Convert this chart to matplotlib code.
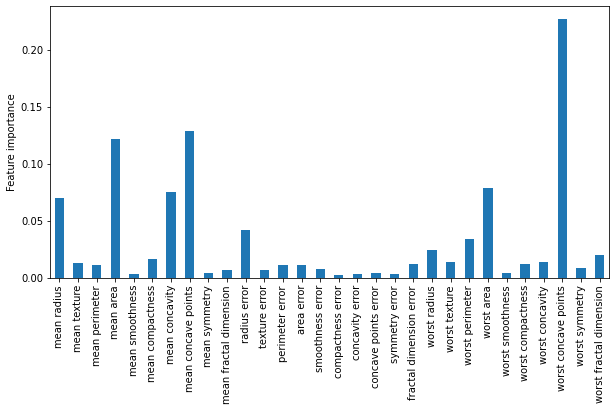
import matplotlib
matplotlib.use("Agg")
import matplotlib.pyplot as plt
import numpy as np

features = [
    "mean radius", "mean texture", "mean perimeter", "mean area",
    "mean smoothness", "mean compactness", "mean concavity",
    "mean concave points", "mean symmetry", "mean fractal dimension",
    "radius error", "texture error", "perimeter error", "area error",
    "smoothness error", "compactness error", "concavity error",
    "concave points error", "symmetry error", "fractal dimension error",
    "worst radius", "worst texture", "worst perimeter", "worst area",
    "worst smoothness", "worst compactness", "worst concavity",
    "worst concave points", "worst symmetry", "worst fractal dimension",
]
importance = [
    0.0703, 0.0132, 0.0114, 0.1220, 0.0035, 0.0167, 0.0755, 0.1290,
    0.0044, 0.0070, 0.0420, 0.0070, 0.0114, 0.0114, 0.0080,
    0.0026, 0.0035, 0.0044, 0.0035, 0.0123,
    0.0246, 0.0140, 0.0342, 0.0790, 0.0044, 0.0123, 0.0140,
    0.2275, 0.0088, 0.0200,
]

DPI = 72
fig = plt.figure(figsize=(615 / DPI, 411 / DPI), dpi=DPI)
ax = fig.add_axes([50 / 615, 1 - 278 / 411, 559 / 615, 272 / 411])

x = np.arange(len(features))
ax.bar(x, importance, width=0.5, color="#1f77b4")
ax.set_xlim(-0.5, len(features) - 0.5)
ax.set_ylim(0, max(importance) * 1.05)
ax.set_xticks(x)
ax.set_xticklabels(features, rotation=90)
ax.set_yticks([0.0, 0.05, 0.10, 0.15, 0.20])
ax.set_yticklabels(["0.00", "0.05", "0.10", "0.15", "0.20"])
ax.set_ylabel("Feature importance")

fig.savefig("out.png", dpi=DPI, facecolor="white")
